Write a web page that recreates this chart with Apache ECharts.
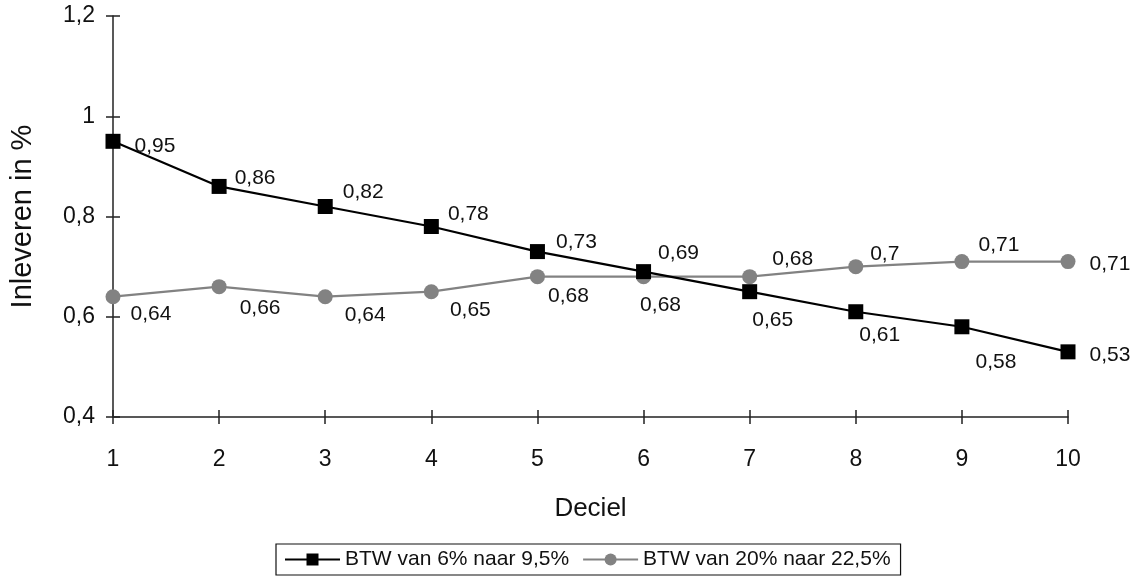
<!DOCTYPE html>
<html>
<head>
<meta charset="utf-8">
<script src="https://cdn.jsdelivr.net/npm/echarts@6/dist/echarts.min.js"></script>
<style>
  html, body { margin: 0; padding: 0; background: #fff; }
  #chart { width: 1140px; height: 579px; }
</style>
</head>
<body>
<div id="chart"></div>
<script>
var decielen = [1, 2, 3, 4, 5, 6, 7, 8, 9, 10];
var btw6 = [0.95, 0.86, 0.82, 0.78, 0.73, 0.69, 0.65, 0.61, 0.58, 0.53];
var btw20 = [0.64, 0.66, 0.64, 0.65, 0.68, 0.68, 0.68, 0.70, 0.71, 0.71];
var yTicks = [0.4, 0.6, 0.8, 1, 1.2];

// verschuiving (px) van elk label t.o.v. het punt, zoals in het origineel
var offsets6 = [[42, 5], [36, -8], [38, -14], [37, -12], [39, -9], [35, -18], [23, 29], [24, 23], [34, 35], [42, 3]];
var offsets20 = [[38, 18], [41, 22], [40, 19], [39, 19], [31, 20], [17, 29], [43, -17], [29, -12], [37, -16], [42, 3]];

function komma(v) {
    return String(Math.round(v * 100) / 100).replace('.', ',');
}

function maakData(vals, offs) {
    return vals.map(function (v, i) {
        return {
            value: [decielen[i], v],
            label: { offset: offs[i] }
        };
    });
}

var chart = echarts.init(document.getElementById('chart'));
var fontFam = 'Liberation Sans, Arial, Helvetica, sans-serif';
var labelStyle = {
    show: true,
    position: 'inside',
    color: '#111',
    fontSize: 21,
    fontFamily: fontFam,
    formatter: function (p) { return komma(p.value[1]); }
};

var asLijn = { show: true, lineStyle: { color: '#222', width: 1.5 } };

chart.setOption({
    animation: false,
    grid: { left: 113, right: 72, top: 16, bottom: 162, outerBoundsMode: 'none', containLabel: false },
    legend: {
        top: 544,
        left: 276,
        itemWidth: 55,
        itemHeight: 15,
        itemGap: 13,
        padding: [5, 10, 5, 8],
        borderColor: '#111',
        borderWidth: 1.2,
        borderRadius: 0,
        textStyle: { fontSize: 21, color: '#111', fontFamily: fontFam },
        data: ['BTW van 6% naar 9,5%', 'BTW van 20% naar 22,5%']
    },
    xAxis: [
        {
            type: 'value',
            min: 1,
            max: 10,
            interval: 1,
            name: 'Deciel',
            nameLocation: 'middle',
            nameGap: 79,
            nameTextStyle: { fontSize: 26, color: '#111', fontFamily: fontFam },
            axisLine: asLijn,
            axisTick: { show: true, length: 7, lineStyle: { color: '#222', width: 1.5 } },
            axisLabel: { fontSize: 23, color: '#111', margin: 31, fontFamily: fontFam },
            splitLine: { show: false }
        },
        {
            // alleen voor de tick-streepjes aan de binnenkant
            type: 'value',
            position: 'bottom',
            min: 1,
            max: 10,
            interval: 1,
            axisLine: { show: false },
            axisTick: { show: true, inside: true, length: 7, lineStyle: { color: '#222', width: 1.5 } },
            axisLabel: { show: false },
            splitLine: { show: false }
        }
    ],
    yAxis: [
        {
            type: 'value',
            min: 0.4,
            max: 1.2,
            interval: 0.2,
            name: 'Inleveren in %',
            nameLocation: 'middle',
            nameGap: 76,
            nameTextStyle: { fontSize: 29, color: '#111', fontFamily: fontFam },
            axisLine: asLijn,
            axisTick: { show: true, length: 7, lineStyle: { color: '#222', width: 1.5 } },
            axisLabel: {
                fontSize: 23, color: '#111', margin: 18, fontFamily: fontFam,
                formatter: function (v) { return komma(v); }
            },
            splitLine: { show: false }
        },
        {
            type: 'value',
            position: 'left',
            min: 0.4,
            max: 1.2,
            interval: 0.2,
            axisLine: { show: false },
            axisTick: { show: true, inside: true, length: 7, lineStyle: { color: '#222', width: 1.5 } },
            axisLabel: { show: false },
            splitLine: { show: false }
        }
    ],
    series: [
        {
            name: 'BTW van 20% naar 22,5%',
            type: 'line',
            data: maakData(btw20, offsets20),
            symbol: 'circle',
            symbolSize: 15,
            itemStyle: { color: '#828282' },
            lineStyle: { color: '#828282', width: 2.2 },
            label: labelStyle
        },
        {
            name: 'BTW van 6% naar 9,5%',
            type: 'line',
            data: maakData(btw6, offsets6),
            symbol: 'rect',
            symbolSize: 15,
            itemStyle: { color: '#000' },
            lineStyle: { color: '#000', width: 2.2 },
            label: labelStyle
        }
    ]
});
</script>
</body>
</html>
